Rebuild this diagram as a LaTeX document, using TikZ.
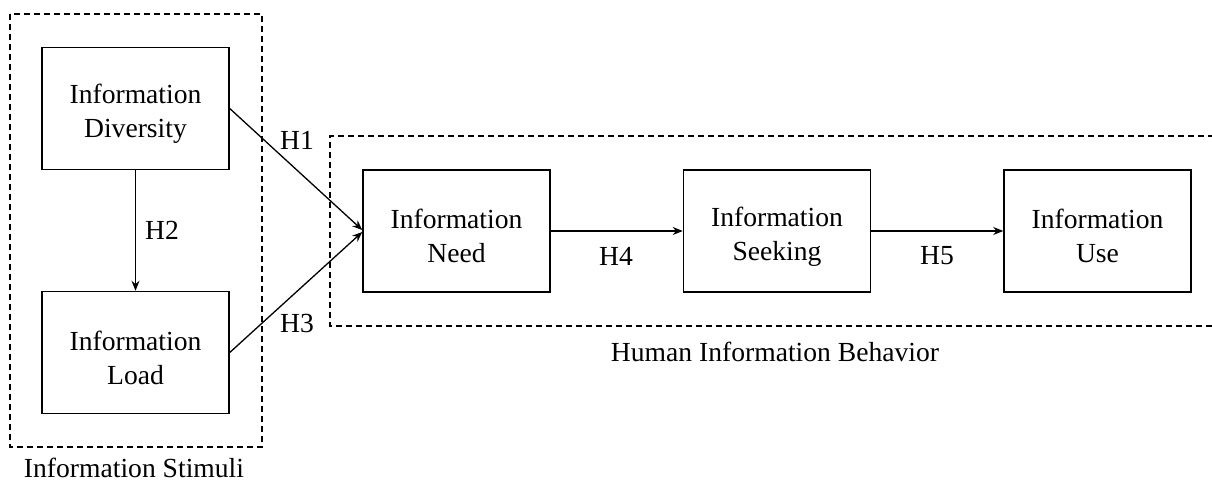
\documentclass[tikz,border=0pt]{standalone}
\usepackage{fontspec}
\setmainfont{Liberation Serif}
\usetikzlibrary{arrows.meta}
\begin{document}
\begin{tikzpicture}[x=1pt,y=1pt,
  box/.style={draw, line width=1.5pt, minimum width=187pt, minimum height=122pt, inner sep=0pt, align=center, font=\fontsize{27.6}{34}\selectfont},
  lbl/.style={font=\fontsize{27.6}{33}\selectfont, inner sep=0pt},
  grp/.style={draw, dashed, line width=1.3pt, dash pattern=on 6pt off 4pt},
  conn/.style={line width=1.3pt, -{Stealth[length=10pt,width=8pt]}}]
\useasboundingbox (0,0) rectangle (1212,-483);
% groups
\draw[grp] (10,-14) rectangle (262,-447);
\draw[grp] (1214,-136) -- (330,-136) -- (330,-326) -- (1214,-326);
\node[lbl] (stim) at (134,-468) {Information Stimuli};
\node[lbl] (hib) at (775,-352) {Human Information Behavior};
% boxes
\node[box] (div) at (135.5,-108.5) {\rule{0pt}{30pt}Information\\Diversity};
\node[box] (load) at (135.5,-352.5) {\rule{0pt}{30pt}Information\\Load};
\node[box] (need) at (456.5,-231) {\rule{0pt}{30pt}Information\\Need};
\node[box] (seek) at (777,-231) {\rule{0pt}{30pt}Information\\Seeking};
\node[box] (use) at (1097.5,-231) {\rule{0pt}{30pt}Information\\Use};
% connectors
\draw[conn] (div.south) -- (load.north);
\draw[conn] (div.east) -- ([yshift=1pt]need.west);
\draw[conn] (load.east) -- ([yshift=-1pt]need.west);
\draw[conn] (need.east) -- (seek.west);
\draw[conn] (seek.east) -- (use.west);
% labels
\node[lbl] (h1) at (297,-140) {H1};
\node[lbl] (h2) at (162,-230) {H2};
\node[lbl] (h3) at (297,-323) {H3};
\node[lbl] (h4) at (616,-256) {H4};
\node[lbl] (h5) at (937,-256) {H5};
\end{tikzpicture}
\end{document}
